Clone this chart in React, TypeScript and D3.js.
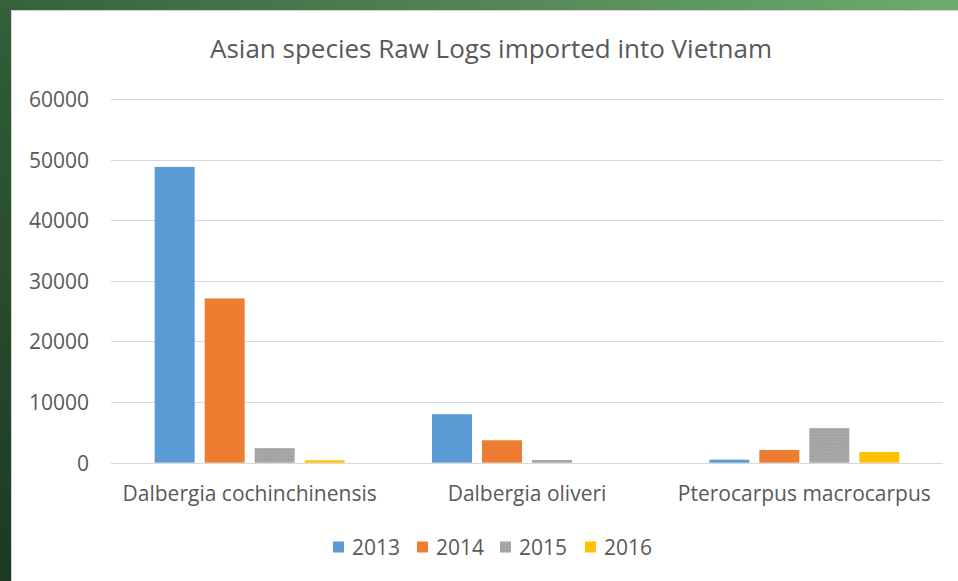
import React from "react";
import * as d3 from "d3";

const categories = ["Dalbergia cochinchinensis", "Dalbergia oliveri", "Pterocarpus macrocarpus"];
const years = ["2013", "2014", "2015", "2016"];
const values2013 = [48800, 8000, 500];
const values2014 = [27100, 3700, 2100];
const values2015 = [2400, 450, 5700];
const values2016 = [400, 0, 1750];
const yTicks = [0, 10000, 20000, 30000, 40000, 50000, 60000];
const colors = ["#5b9bd5", "#ed7d31", "#a5a5a5", "#ffc000"];
const title = "Asian species Raw Logs imported into Vietnam";

const series = [values2013, values2014, values2015, values2016];

export default function App() {
  const W = 958, H = 581;
  const x0 = d3.scaleBand<string>().domain(categories).range([111, 943]).paddingInner(0).paddingOuter(0);
  const x1 = d3.scaleBand<string>().domain(years).range([0, x0.bandwidth()]).paddingInner(0.2).paddingOuter(0.873);
  const y = d3.scaleLinear().domain([0, 60000]).range([462.7, 99]);
  const font = "'Open Sans', 'Noto Sans', sans-serif";
  const textColor = "#595959";
  const legendX = [333, 417, 500, 585];

  return (
    <svg width={W} height={H} style={{ position: "absolute", left: 0, top: 0, display: "block" }}>
      <defs>
        <linearGradient id="bg" x1="0" y1="1" x2="1" y2="0">
          <stop offset="0" stopColor="#1b3a1f" />
          <stop offset="0.45" stopColor="#2f5b36" />
          <stop offset="1" stopColor="#6fab6f" />
        </linearGradient>
        <pattern id="dots" width="3" height="3" patternUnits="userSpaceOnUse">
          <rect width="3" height="3" fill="#a5a5a5" />
          <rect width="1" height="1" fill="#9a9a9a" />
          <rect x="2" y="1" width="1" height="1" fill="#b0b0b0" />
        </pattern>
      </defs>
      <rect x={0} y={0} width={W} height={H} fill="url(#bg)" />
      <rect x={11.5} y={10.5} width={W - 11} height={H - 10} fill="#ffffff" stroke="#d4d4d4" strokeWidth={1} />
      <text x={491} y={48} textAnchor="middle" dominantBaseline="central" fontFamily={font} fontSize={26} fill={textColor}>
        {title}
      </text>
      {yTicks.map((t) => (
        <g key={t}>
          <line x1={111} x2={943} y1={Math.round(y(t)) + 0.5} y2={Math.round(y(t)) + 0.5} stroke="#d9d9d9" strokeWidth={1} />
          <text x={89} y={y(t)} textAnchor="end" dominantBaseline="central" fontFamily={font} fontSize={21} fill={textColor}>
            {t}
          </text>
        </g>
      ))}
      {categories.map((c, ci) => (
        <g key={c} transform={`translate(${x0(c)},0)`}>
          {years.map((yr, si) => {
            const v = series[si][ci];
            if (v <= 0) return null;
            return (
              <rect
                key={yr}
                x={x1(yr)}
                y={y(v)}
                width={x1.bandwidth()}
                height={y(0) - y(v)}
                fill={si === 2 ? "url(#dots)" : colors[si]}
              />
            );
          })}
          <text
            x={x0.bandwidth() / 2}
            y={493}
            textAnchor="middle"
            dominantBaseline="central"
            fontFamily={font}
            fontSize={21}
            fill={textColor}
          >
            {c}
          </text>
        </g>
      ))}
      {years.map((yr, i) => (
        <g key={yr} transform={`translate(${legendX[i]},547)`}>
          <rect x={0} y={-5.5} width={11} height={11} fill={i === 2 ? "url(#dots)" : colors[i]} />
          <text x={19} y={0} dominantBaseline="central" fontFamily={font} fontSize={21} fill={textColor}>
            {yr}
          </text>
        </g>
      ))}
    </svg>
  );
}
